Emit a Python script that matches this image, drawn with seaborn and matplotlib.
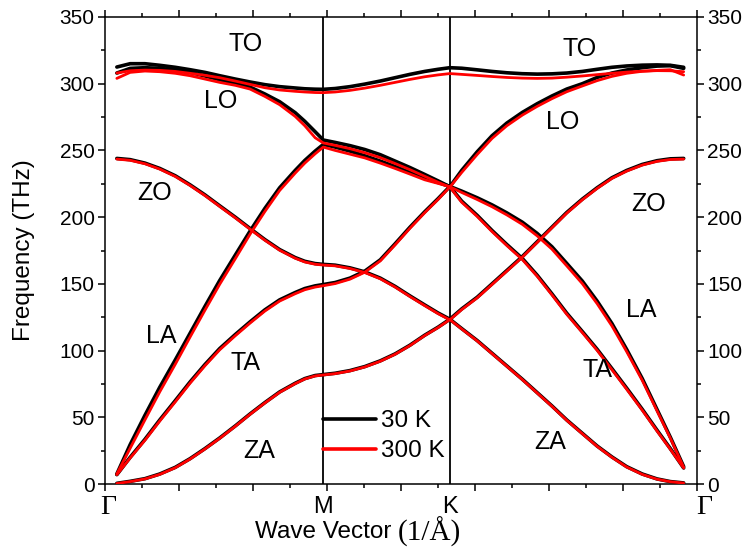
import numpy as np
import pandas as pd
import matplotlib
matplotlib.use("Agg")
import matplotlib.pyplot as plt
from matplotlib.lines import Line2D
from matplotlib.ticker import MultipleLocator
import seaborn as sns

sns.set_style("ticks")
plt.rcParams["font.family"] = ["Liberation Sans", "DejaVu Sans"]
plt.rcParams["text.color"] = "black"
plt.rcParams["axes.labelcolor"] = "black"
plt.rcParams["xtick.color"] = "black"
plt.rcParams["ytick.color"] = "black"

# wave-vector coordinate along Gamma - M - K - Gamma
q = [0.16, 0.34, 0.54, 0.74, 0.95, 1.15, 1.35, 1.55, 1.76, 1.96, 2.16, 2.36, 2.57, 2.70, 2.84, 2.95,
     3.11, 3.31, 3.51, 3.72, 3.92, 4.12, 4.32, 4.50, 4.66,
     4.82, 5.03, 5.23, 5.43, 5.64, 5.84, 6.04, 6.24, 6.45, 6.65, 6.85, 7.05, 7.26, 7.46, 7.64, 7.82]
q_M = 2.95
q_K = 4.66

# ---- 30 K (THz) ----
ZA_30 = [0.5, 2, 4, 7.5, 12.5, 19, 26.5, 34.5, 43.5, 52.5, 61, 69, 75.5, 79, 81.3, 82,
         83, 85, 88, 92.3, 97.5, 104, 111.5, 117.5, 123.5,
         116.5, 107.5, 98, 88.5, 78.5, 68.5, 58.5, 48, 38, 28.5, 20.3, 13, 7.5, 3.8, 1.8, 0.8]
TA_30 = [7, 20, 33.5, 48, 62.5, 76.5, 89.5, 101.5, 112, 121.5, 130.5, 138, 143.5, 146.5, 148.5, 149.5,
         151, 154.3, 159.5, 168, 180, 192.4, 204, 213.8, 223,
         212, 201.3, 190, 179.5, 169, 156.5, 142.5, 128, 114.3, 101, 86.5, 71.8, 56, 40.3, 26.5, 12]
LA_30 = [7.5, 29.5, 51.5, 72.5, 93, 113, 133, 152.5, 171.5, 189.5, 206.5, 222, 235, 242.5, 249.5, 254.5,
         252.5, 249.5, 246, 242, 238, 233.5, 229, 226, 223,
         219.5, 214.5, 209.2, 203.2, 196.2, 187.8, 177.8, 165.3, 152.1, 137.1, 120.3, 100.8, 79, 55.8, 35, 13]
ZO_30 = [244, 243.1, 240.5, 236.5, 231, 224.2, 216.7, 208.5, 200, 191.5, 183.2, 175.7, 169.7, 166.9, 165.2, 164.6,
         164, 162, 159, 154.3, 148.1, 141, 134.2, 128.2, 123.5,
         131.2, 140, 150, 160, 170.5, 181.5, 192.5, 203.5, 213.5, 222, 229.5, 235, 239.5, 242.3, 243.7, 244]
LO_30 = [308, 311.5, 312, 311.5, 310.3, 308.5, 305.8, 303, 300.5, 297.5, 292.3, 286.5, 278.3, 271.8, 264, 257.8,
         256, 253.6, 250.7, 246.8, 242, 237.2, 232, 227.2, 222.8,
         235, 249, 261, 270.5, 278.5, 285, 290.8, 296, 300, 304.7, 308, 310.3, 312, 313.2, 313.5, 311.5]
TO_30 = [312.5, 315, 315, 313.8, 312.3, 310.5, 308.5, 306, 303.5, 301.3, 299.3, 297.8, 296.8, 296.2, 295.9, 295.8,
         296.4, 297.8, 299.7, 302, 304.5, 307, 309.2, 310.8, 312,
         311.6, 310.4, 309.2, 308.2, 307.5, 307.2, 307.4, 308, 309.2, 310.8, 312.3, 313.3, 313.9, 314.1, 313.8, 312.3]

# ---- 300 K (THz) ----
ZA_300 = [0.4, 1.8, 3.8, 7.2, 12.2, 18.7, 26.2, 34.2, 43.2, 52.2, 60.7, 68.7, 75.2, 78.7, 81, 81.7,
          82.7, 84.7, 87.7, 92, 97.2, 103.7, 111.2, 117.2, 123.2,
          116.2, 107.2, 97.7, 88.2, 78.2, 68.2, 58.2, 47.7, 37.7, 28.2, 20, 12.7, 7.2, 3.6, 1.7, 0.7]
TA_300 = [7, 19.5, 32.8, 47.2, 61.6, 75.6, 88.6, 100.6, 111.1, 120.6, 129.6, 137.1, 142.6, 145.6, 147.6, 148.6,
          150.2, 153.5, 158.7, 167.2, 179.2, 191.6, 203.3, 213.2, 222.6,
          211.2, 200.5, 189.2, 178.7, 168.2, 155.7, 141.7, 127.2, 113.5, 100.2, 85.7, 71, 55.3, 39.7, 26, 12]
LA_300 = [7.5, 26.8, 48.1, 69.1, 89.8, 110.2, 130.2, 149.7, 168.8, 187.2, 204.2, 220, 233, 240.5, 247.5, 252.5,
          250, 247.2, 244.4, 240.5, 236.5, 232.3, 228, 225.3, 222.8,
          218.5, 213.2, 207.8, 201.7, 194.6, 186, 176, 163.5, 150.2, 135.2, 118.5, 99.2, 77.7, 54.8, 34.3, 12.5]
ZO_300 = [243.5, 242.6, 240, 236, 230.5, 223.7, 216.2, 208, 199.5, 191, 182.7, 175.2, 169.2, 166.4, 164.7, 164.1,
          163.5, 161.5, 158.5, 153.8, 147.6, 140.5, 133.7, 127.7, 123,
          130.7, 139.5, 149.5, 159.5, 170, 181, 192, 203, 213, 221.5, 229, 234.5, 239, 241.8, 243.2, 243.5]
LO_300 = [304, 308.5, 309.5, 309, 307.8, 306, 303.5, 301, 298.8, 296, 290.5, 284.3, 275.5, 268.5, 259.5, 255.6,
          253.8, 251.3, 248.3, 244.6, 240.2, 235.6, 230.6, 226.2, 222.5,
          233.5, 247, 259, 268.5, 276.5, 283, 288.8, 294, 298.3, 302.3, 305.5, 307.8, 309.3, 310, 310.5, 306.5]
TO_300 = [308, 309.7, 310.2, 310, 309.2, 307.8, 306.3, 304.5, 302, 299.5, 297, 295.3, 294.3, 293.8, 293.4, 293.3,
          293.8, 295, 296.7, 298.8, 301, 303.2, 305.2, 306.6, 307.6,
          307, 306.2, 305.4, 304.7, 304.2, 304, 304.2, 304.9, 305.8, 306.8, 307.8, 308.7, 309.4, 309.8, 309.7, 309]

branches_30 = {"ZA": ZA_30, "TA": TA_30, "LA": LA_30, "ZO": ZO_30, "LO": LO_30, "TO": TO_30}
branches_300 = {"ZA": ZA_300, "TA": TA_300, "LA": LA_300, "ZO": ZO_300, "LO": LO_300, "TO": TO_300}

rows = []
for temp, br in (("30 K", branches_30), ("300 K", branches_300)):
    for name, vals in br.items():
        for qq, ff in zip(q, vals):
            rows.append({"q": qq, "freq": ff, "branch": name, "T": temp})
df = pd.DataFrame(rows)

fig = plt.figure(figsize=(7.49, 5.53), dpi=100)
ax = fig.add_axes([105 / 749, 1 - 484 / 553, 592 / 749, 467 / 553])

ax.axvline(q_M, color="black", lw=1.3, zorder=1)
ax.axvline(q_K, color="black", lw=1.3, zorder=1)

sns.lineplot(data=df[df["T"] == "30 K"], x="q", y="freq", units="branch",
             estimator=None, sort=False, color="black", lw=2.6, ax=ax,
             legend=False, zorder=2)
sns.lineplot(data=df[df["T"] == "300 K"], x="q", y="freq", units="branch",
             estimator=None, sort=False, color="red", lw=2.0, ax=ax,
             legend=False, zorder=3)

ax.set_xlim(0, 8)
ax.set_ylim(0, 350)
ax.xaxis.set_major_locator(MultipleLocator(1))
ax.xaxis.set_minor_locator(MultipleLocator(0.5))
ax.yaxis.set_major_locator(MultipleLocator(50))
ax.yaxis.set_minor_locator(MultipleLocator(25))
ax.tick_params(which="both", direction="out", top=True, right=True,
               labelright=True, labelbottom=False, width=1.1, colors="black")
ax.tick_params(which="major", length=5, labelsize=15, pad=2.5)
ax.tick_params(which="minor", length=3)
for s in ax.spines.values():
    s.set_linewidth(1.1)
    s.set_color("black")
ax.set_xlabel("")
ax.set_ylabel("Frequency (THz)", fontsize=17.5, color="black")
ax.yaxis.set_label_coords(-0.118, 0.5)

# high-symmetry point labels
serif = ["Liberation Serif", "DejaVu Serif"]
xt = ax.get_xaxis_transform()
ax.text(0.04, -0.05, "Γ", transform=xt, ha="center", va="center", fontsize=20, family=serif)
ax.text(8.1, -0.05, "Γ", transform=xt, ha="center", va="center", fontsize=20, family=serif)
ax.text(q_M, -0.05, "M", transform=xt, ha="center", va="center", fontsize=17)
ax.text(q_K, -0.05, "K", transform=xt, ha="center", va="center", fontsize=17)

fig.text(398 / 749, 1 - 532 / 553, "Wave Vector ", ha="right", va="center", fontsize=17.5)
fig.text(398 / 749, 1 - 532 / 553, "(1/Å)", ha="left", va="center", fontsize=21, family=serif)

# branch labels
labels = [("TO", 1.905, 329.8), ("LO", 1.568, 287), ("ZO", 0.676, 218), ("LA", 0.757, 111),
          ("TA", 1.892, 90.7), ("ZA", 2.08, 24.7), ("TO", 6.42, 326), ("LO", 6.18, 271.3),
          ("ZO", 7.35, 209.8), ("LA", 7.24, 130.4), ("TA", 6.66, 85.4), ("ZA", 6.01, 31.5)]
for t, x, y in labels:
    ax.text(x, y, t, ha="center", va="center", fontsize=18, color="black")

handles = [Line2D([], [], color="black", lw=2.6), Line2D([], [], color="red", lw=2.6)]
leg = ax.legend(handles, ["30 K", "300 K"], loc="upper left", bbox_to_anchor=(0.368, 0.158),
                frameon=False, fontsize=17.5, handlelength=2.2, handletextpad=0.2,
                labelspacing=0.32, borderpad=0, borderaxespad=0)
for t in leg.get_texts():
    t.set_color("black")

fig.savefig("out.png", dpi=100)
